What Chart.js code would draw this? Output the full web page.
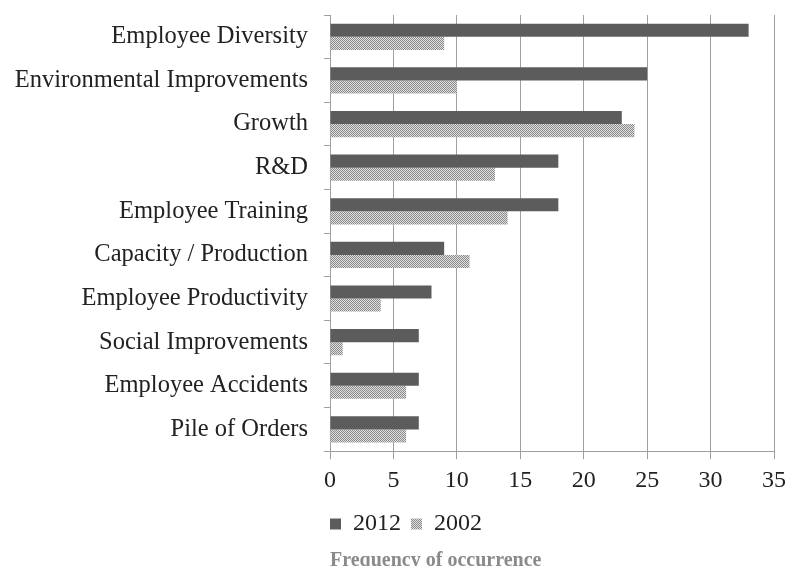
<!DOCTYPE html>
<html>
<head>
<meta charset="utf-8">
<script src="https://cdn.jsdelivr.net/npm/chart.js@4/dist/chart.umd.min.js"></script>
<style>
  html, body { margin: 0; padding: 0; background: #fff; }
  #wrap { width: 788px; height: 566px; }
</style>
</head>
<body>
<div id="wrap"><canvas id="barChart" width="788" height="566"></canvas></div>
<script>
const categories = ["Employee Diversity", "Environmental Improvements", "Growth", "R&D",
    "Employee Training", "Capacity / Production", "Employee Productivity",
    "Social Improvements", "Employee Accidents", "Pile of Orders"];
const values2012 = [33, 25, 23, 18, 18, 9, 8, 7, 7, 7];
const values2002 = [9, 10, 24, 13, 14, 11, 4, 1, 6, 6];
const xTicks = [0, 5, 10, 15, 20, 25, 30, 35];

const serif = "'Liberation Serif', 'Times New Roman', serif";
const legendPad = 10;

// small dotted hatch like the scanned 2002 bars
function makeHatch() {
    let c = document.createElement("canvas");
    c.width = 4; c.height = 4;
    let g = c.getContext("2d");
    g.fillStyle = "#e0e0e0";
    g.fillRect(0, 0, 4, 4);
    g.fillStyle = "#8a8a8a";
    for (let i = 0; i < 4; i++) {
        g.fillRect(i, i, 1, 1);
        g.fillRect((i + 2) % 4, i, 1, 1);
    }
    return g.createPattern(c, "repeat");
}

// legend starts flush with the plot's left edge, as in the picture
const legendShift = {
    id: 'legendShift',
    afterLayout(chart) {
        if (chart.legend) {
            chart.legend.left -= legendPad;
            chart.legend.right -= legendPad;
        }
    }
};

function drawBarChart() {
    "use strict";
    let ctx = document.getElementById("barChart");
    let hatch = makeHatch();
    new Chart(ctx, {
        type: 'bar',
        data: {
            labels: categories,
            datasets: [{
                label: '2012',
                backgroundColor: "#5c5c5c",
                data: values2012
            }, {
                label: '2002',
                backgroundColor: hatch,
                data: values2002
            }]
        },
        plugins: [legendShift],
        options: {
            indexAxis: 'y',
            responsive: false,
            animation: false,
            categoryPercentage: 0.6,
            barPercentage: 1.0,
            layout: { padding: { top: 15, right: 0, left: 0, bottom: -7 } },
            plugins: {
                legend: {
                    position: 'bottom',
                    align: 'start',
                    fullSize: false,
                    labels: {
                        boxWidth: 11,
                        boxHeight: 11,
                        padding: legendPad,
                        color: "#222",
                        font: { family: serif, size: 24 }
                    }
                },
                title: {
                    display: true,
                    text: 'Frequency of occurrence',
                    position: 'bottom',
                    align: 'start',
                    fullSize: false,
                    color: "#8a8a8a",
                    padding: { top: 3, bottom: 0 },
                    font: { family: serif, size: 20, weight: 'bold' }
                },
                tooltip: { enabled: false }
            },
            scales: {
                x: {
                    min: 0,
                    max: 35,
                    afterBuildTicks: function(scale) {
                        scale.ticks = xTicks.map(v => ({ value: v }));
                    },
                    afterFit: function(scale) {
                        scale.paddingLeft = 0;
                        scale.paddingRight = 14;
                    },
                    grid: { color: "#a0a0a0", tickLength: 8 },
                    border: { color: "#a0a0a0" },
                    ticks: {
                        color: "#222",
                        padding: 7,
                        font: { family: serif, size: 24 }
                    }
                },
                y: {
                    afterFit: function(scale) {
                        scale.width = 330;
                        scale.paddingTop = 0;
                        scale.paddingBottom = 0;
                    },
                    grid: { offset: true, drawOnChartArea: false, color: "#a0a0a0", tickLength: 6 },
                    border: { color: "#a0a0a0" },
                    ticks: {
                        color: "#222",
                        padding: 16,
                        font: { family: serif, size: 24.5 }
                    }
                }
            }
        }
    });
}
drawBarChart();
</script>
</body>
</html>
